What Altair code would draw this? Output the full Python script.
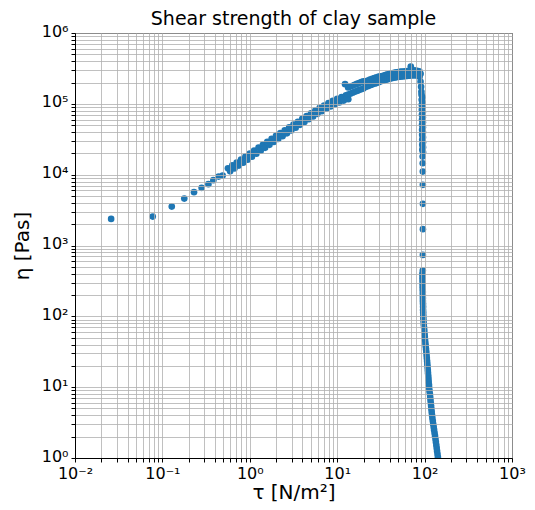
import altair as alt
import pandas as pd

# ---- data ----
tau_start = [0.0259, 0.0775, 0.128, 0.178, 0.230, 0.281, 0.336, 0.383, 0.440, 0.489]
eta_start = [2376, 2560, 3542, 4596, 5660, 6510, 7340, 8360, 9400, 9710]

tau_rise = [0.562, 0.596, 0.631, 0.668, 0.708, 0.750, 0.794, 0.841, 0.891, 0.944,
            1.0, 1.059, 1.122, 1.189, 1.259, 1.334, 1.413, 1.496, 1.585, 1.679,
            1.778, 1.884, 1.995, 2.113, 2.239, 2.371, 2.512, 2.661, 2.818, 2.985,
            3.162, 3.350, 3.548, 3.758, 3.981, 4.217, 4.467, 4.732, 5.012, 5.309,
            5.623, 5.957, 6.310, 6.683, 7.079, 7.499, 7.943, 8.414, 8.913, 9.441,
            10.0, 10.59, 11.22, 11.89, 12.59, 13.0, 13.4]
eta_rise = [12300, 11140, 13550, 12250, 14860, 13430, 16300, 14760, 17990, 16290,
            19820, 17950, 21870, 19810, 24110, 21780, 26490, 23930, 29100, 26360,
            32070, 28970, 35240, 31840, 38640, 34910, 42370, 38280, 46450, 41970,
            50940, 46020, 55850, 50460, 61230, 55330, 67140, 60670, 73630, 66370,
            80360, 72280, 87510, 78700, 94840, 85310, 102800, 91820, 110200, 98400,
            118000, 104700, 125100, 111000, 132400, 122000, 116000]

tau_plat = [13.34, 14.13, 14.96, 15.85, 16.79, 17.78, 18.84, 19.95, 21.13, 22.39,
            23.71, 25.12, 26.61, 28.18, 29.85, 31.62, 33.50, 35.48, 37.58, 39.81,
            42.17, 44.67, 47.32, 50.12, 53.09, 56.23, 59.57, 63.10, 66.83, 70.79,
            74.99, 79.43, 84.14]
eta_plat_hi = [169800, 175000, 180300, 185800, 191000, 196800, 202300, 207500, 208400, 213800,
               219300, 224900, 230700, 236100, 242100, 244300, 249400, 254700, 260000, 265500,
               269800, 274100, 278000, 281800, 284500, 286400, 288400, 290400, 292400, 294400,
               296500, 295800, 289700]
eta_plat_lo = [134900, 139000, 143200, 147600, 151700, 156300, 160700, 164800, 173400, 177800,
               182400, 187100, 191900, 196300, 201400, 208000, 212300, 216800, 221300, 225900,
               229600, 233400, 236600, 239900, 242100, 243800, 245500, 247200, 248900, 250600,
               252300, 251800, 248300]

tau_extra = [12.3, 69.5, 87.5, 90.0, 87.7, 89.9, 91.2, 91.9]
eta_extra = [189700, 336500, 285000, 265000, 240500, 204600, 173800, 147600]

tau_fall = [92.2, 94.6, 92.6, 94.9, 92.8, 95.2, 93.0, 95.4, 93.2, 95.5, 93.4, 95.6,
            93.5, 95.7, 93.6, 95.8, 93.8, 95.8, 93.9, 95.9, 94.0, 96.0, 94.1, 96.0,
            95.0, 95.2, 95.4, 95.5, 95.6, 95.6, 95.6, 95.4]
eta_fall = [134000, 123600, 113800, 105000, 96800, 89300, 82300, 75900, 70000, 64500,
            59400, 54800, 50500, 46600, 42900, 39600, 36500, 33600, 31000, 28600,
            26400, 24300, 22400, 20650,
            18000, 14500, 11060, 7180, 3870, 1700, 736, 442]

tau_tail = [94.4, 94.6, 94.6, 94.9, 94.9, 95.1, 95.4, 95.4, 95.6, 95.6, 95.9, 96.1, 96.1,
            96.4, 96.6, 96.9, 97.4, 97.9, 98.7, 99.2, 100.0, 100.5, 101.3, 102.1, 102.9,
            103.8, 104.6, 105.4, 106.0, 106.8, 107.4, 108.2, 108.8, 109.4, 110.2, 110.8,
            111.4, 112.3, 112.9, 113.8, 115.0, 115.9, 116.8, 117.7, 118.7, 119.6, 120.6,
            121.5, 122.8, 124.1, 125.4, 127.1, 128.4, 130.1, 131.5, 133.2, 134.6, 136.1,
            137.5, 138.9, 140.4, 141.9, 143.4, 144.9]
eta_tail = [397, 360, 327, 296, 269, 244, 221, 200.6, 182, 165, 150, 136, 123, 112, 101.4,
            91.9, 83.4, 75.6, 68.6, 62.2, 56.4, 51.2, 46.4, 42.1, 38.2, 34.6, 31.4, 28.5,
            25.8, 23.4, 21.3, 19.3, 17.5, 15.9, 14.4, 13.05, 11.85, 10.74, 9.74, 8.84, 8.02,
            7.27, 6.59, 5.98, 5.42, 4.92, 4.46, 4.05, 3.67, 3.33, 3.02, 2.74, 2.49, 2.25,
            2.05, 1.855, 1.683, 1.527, 1.384, 1.256, 1.139, 1.033, 0.937, 0.849]

x_decades = [0.01, 0.1, 1, 10, 100, 1000]
x_labels = ["10⁻²", "10⁻¹", "10⁰", "10¹", "10²", "10³"]
y_decades = [1, 10, 100, 1000, 10000, 100000, 1000000]
y_labels = ["10⁰", "10¹", "10²", "10³", "10⁴", "10⁵", "10⁶"]

# ---- build table ----
rows = []
for t, e in zip(tau_start, eta_start):
    rows.append((t, e))
for t, e in zip(tau_rise, eta_rise):
    rows.append((t, e))
for t, e in zip(tau_plat, eta_plat_hi):
    rows.append((t, e))
for t, e in zip(tau_plat, eta_plat_lo):
    rows.append((t, e))
for t, e in zip(tau_extra, eta_extra):
    rows.append((t, e))
for t, e in zip(tau_fall, eta_fall):
    rows.append((t, e))
for t, e in zip(tau_tail, eta_tail):
    rows.append((t, e))
df = pd.DataFrame(rows, columns=["tau", "eta"])


def ticks_for(decades):
    vals = []
    for d in decades[:-1]:
        for m in range(1, 10):
            vals.append(m * d)
    vals.append(decades[-1])
    return vals


def label_expr(decades, labels):
    expr = "''"
    for d, l in reversed(list(zip(decades, labels))):
        expr = f"datum.value == {d} ? '{l}' : ({expr})"
    return expr


FONT = "DejaVu Sans"

common = dict(
    grid=True,
    gridColor="#b0b0b0",
    gridWidth=0.8,
    tickSize=4,
    tickColor="black",
    tickWidth=1,
    domainColor="black",
    domainWidth=1,
    labelFont=FONT,
    labelFontSize=16,
    labelColor="black",
    labelPadding=3,
    labelFlush=False,
    labelOverlap=False,
    labelBound=False,
    titleFont=FONT,
    titleFontSize=20,
    titleFontWeight="normal",
    titleColor="black",
    zindex=1,
)

x_axis = alt.Axis(
    values=ticks_for(x_decades),
    labelExpr=label_expr(x_decades, x_labels),
    title="τ [N/m²]",
    titlePadding=1,
    **common,
)

y_axis = alt.Axis(
    values=ticks_for(y_decades),
    labelExpr=label_expr(y_decades, y_labels),
    title="η [Pas]",
    titlePadding=9,
    labelOffset=-2,
    **common,
)

chart = (
    alt.Chart(df)
    .mark_circle(size=44, color="#1f77b4", opacity=1, clip=True)
    .encode(
        x=alt.X("tau:Q", scale=alt.Scale(type="log", domain=[0.01, 1000], nice=False), axis=x_axis),
        y=alt.Y("eta:Q", scale=alt.Scale(type="log", domain=[1, 1000000], nice=False), axis=y_axis),
    )
    .properties(
        width=437,
        height=425,
        title=alt.TitleParams(
            "Shear strength of clay sample",
            font=FONT,
            fontSize=19,
            fontWeight="normal",
            color="black",
            anchor="middle",
            frame="group",
            offset=6,
            dy=12,
        ),
        padding={"left": 67, "top": 25, "right": 14, "bottom": 52},
        autosize="none",
    )
    .configure_view(stroke="black", strokeWidth=1)
)

chart.save("out.html", embed_options={"renderer": "svg", "actions": False})
